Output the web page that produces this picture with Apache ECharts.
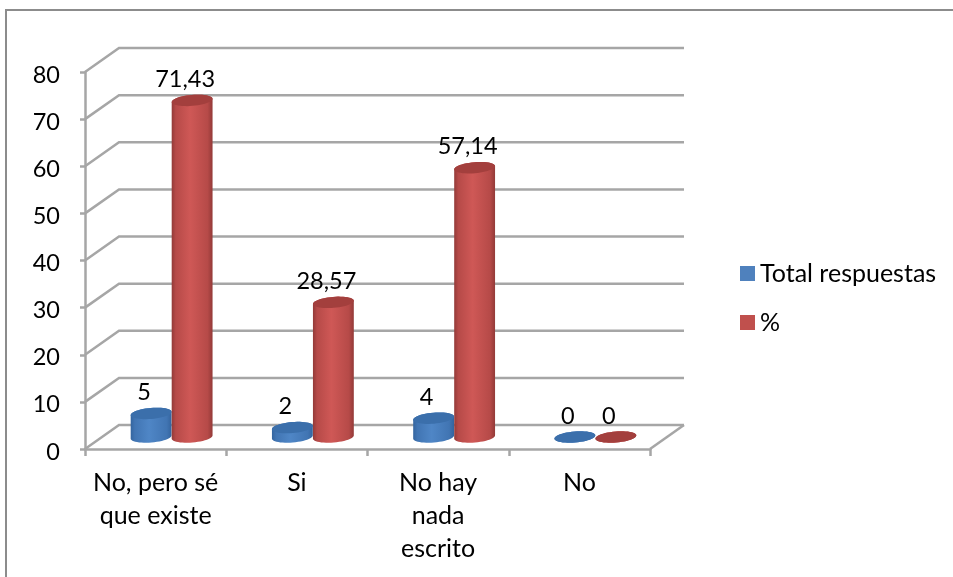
<!DOCTYPE html>
<html>
<head>
<meta charset="utf-8">
<script src="https://cdn.jsdelivr.net/npm/echarts@6/dist/echarts.min.js"></script>
<style>
html, body { margin: 0; padding: 0; background: #fff; }
#chart { width: 953px; height: 577px; }
</style>
</head>
<body>
<div id="chart"></div>
<script>
// Survey answers, two measures per answer
const categories = ['No, pero sé\nque existe', 'Si', 'No hay\nnada\nescrito', 'No'];
const totalRespuestas = [5, 2, 4, 0];
const porcentaje = [71.43, 28.57, 57.14, 0];
const yTicks = [0, 10, 20, 30, 40, 50, 60, 70, 80];

// Oblique projection used for the pseudo-3D walls and cylinders
const DEPTH_X = 34;
const DEPTH_Y = -24;
const RADIUS_X = 20.5;
const RADIUS_Y = 5.5;
const TILT = -0.085;
const FONT = 'Lato, Carlito, "Open Sans", sans-serif';
const AXIS_GREY = '#a6a6a6';
const LINE_WIDTH = 2.5;

function ellipsePoints(cx, cy, from, to, steps) {
  const pts = [];
  for (let i = 0; i <= steps; i++) {
    const t = from + (to - from) * i / steps;
    const ex = RADIUS_X * Math.cos(t);
    const ey = RADIUS_Y * Math.sin(t);
    pts.push([
      cx + ex * Math.cos(TILT) - ey * Math.sin(TILT),
      cy + ex * Math.sin(TILT) + ey * Math.cos(TILT)
    ]);
  }
  return pts;
}

function gradient(stops) {
  return new echarts.graphic.LinearGradient(0, 0, 1, 0,
    stops.map(c => ({ offset: c[0], color: c[1] })));
}

// Back wall and side wall lines, one data item per y tick
function renderWalls(params, api) {
  const v = api.value(0);
  const p = api.coord([0, v]);
  const left = params.coordSys.x;
  const right = left + params.coordSys.width;
  const style = { stroke: AXIS_GREY, lineWidth: LINE_WIDTH, fill: null };
  const children = [
    { type: 'polyline', shape: { points: [[left, p[1]], [left + DEPTH_X, p[1] + DEPTH_Y], [right + DEPTH_X, p[1] + DEPTH_Y]] }, style }
  ];
  if (v === 0) {
    children.push({ type: 'line', shape: { x1: right, y1: p[1], x2: right + DEPTH_X, y2: p[1] + DEPTH_Y }, style });
  }
  return { type: 'group', children };
}

function cylinderRenderer(side, body, topFill) {
  return function (params, api) {
    const value = api.value(1);
    const base = api.coord([api.value(0), 0]);
    const head = api.coord([api.value(0), value]);
    const cx = base[0] + DEPTH_X / 2 - 1 + side * RADIUS_X;
    const by = base[1] + DEPTH_Y / 2;
    const ty = head[1] + DEPTH_Y / 2;
    const outline = ellipsePoints(cx, ty, Math.PI, 2 * Math.PI, 24)
      .concat(ellipsePoints(cx, by, 0, Math.PI, 24));
    const label = String(value).replace('.', ',');
    return {
      type: 'group',
      children: [
        { type: 'polygon', shape: { points: outline }, style: { fill: gradient(body) } },
        { type: 'polygon', shape: { points: ellipsePoints(cx, ty, 0, 2 * Math.PI, 48) }, style: { fill: topFill } },
        {
          type: 'text',
          style: {
            text: label, x: cx - 7, y: ty - 21,
            align: 'center', verticalAlign: 'middle',
            font: '23.5px ' + FONT, fill: '#000'
          }
        }
      ]
    };
  };
}

const blueBody = [[0, '#34659f'], [0.1, '#4175b3'], [0.45, '#4f86c6'], [0.88, '#4175b3'], [1, '#34649e']];
const redBody = [[0, '#933a38'], [0.1, '#b64a48'], [0.45, '#cf5856'], [0.88, '#b64a48'], [1, '#933a38']];

const chart = echarts.init(document.getElementById('chart'), null, { renderer: 'canvas' });
chart.setOption({
  animation: false,
  backgroundColor: '#fff',
  graphic: [{
    type: 'polyline',
    shape: { points: [[6, 577], [6, 10], [953, 10]] },
    style: { fill: null, stroke: '#8c8c8c', lineWidth: 2 },
    silent: true
  }],
  grid: { left: 85, top: 72, width: 565, height: 377 },
  legend: {
    orient: 'vertical', left: 740, top: 261, padding: 0, itemWidth: 15, itemHeight: 15, itemGap: 24,
    icon: 'rect', textStyle: { fontFamily: FONT, fontSize: 25, color: '#000' },
    data: ['Total respuestas', '%']
  },
  xAxis: {
    type: 'category', data: categories,
    axisLine: { lineStyle: { color: AXIS_GREY, width: LINE_WIDTH } },
    axisTick: { show: true, alignWithLabel: false, length: 7, lineStyle: { color: AXIS_GREY, width: LINE_WIDTH } },
    axisLabel: { interval: 0, fontFamily: FONT, fontSize: 25, color: '#000', lineHeight: 33, margin: 17 }
  },
  yAxis: {
    type: 'value', min: 0, max: 80, interval: 10,
    splitLine: { show: false },
    axisLine: { show: true, lineStyle: { color: AXIS_GREY, width: LINE_WIDTH } },
    axisTick: { show: true, length: 5, lineStyle: { color: AXIS_GREY, width: LINE_WIDTH } },
    axisLabel: { fontFamily: FONT, fontSize: 23.5, color: '#000', margin: 25, verticalAlign: 'top', lineHeight: 6 }
  },
  series: [
    {
      name: 'walls', type: 'custom', coordinateSystem: 'cartesian2d', silent: true,
      encode: { y: 0 }, data: yTicks.map(v => [v]), renderItem: renderWalls, z: 1
    },
    {
      name: 'Total respuestas', type: 'custom', coordinateSystem: 'cartesian2d',
      itemStyle: { color: '#4f81bd' }, encode: { x: 0, y: 1 },
      data: totalRespuestas.map((v, i) => [i, v]),
      renderItem: cylinderRenderer(-1, blueBody, '#3b6fab'), z: 2
    },
    {
      name: '%', type: 'custom', coordinateSystem: 'cartesian2d',
      itemStyle: { color: '#c0504d' }, encode: { x: 0, y: 1 },
      data: porcentaje.map((v, i) => [i, v]),
      renderItem: cylinderRenderer(1, redBody, '#a33f3d'), z: 3
    }
  ]
});
</script>
</body>
</html>
